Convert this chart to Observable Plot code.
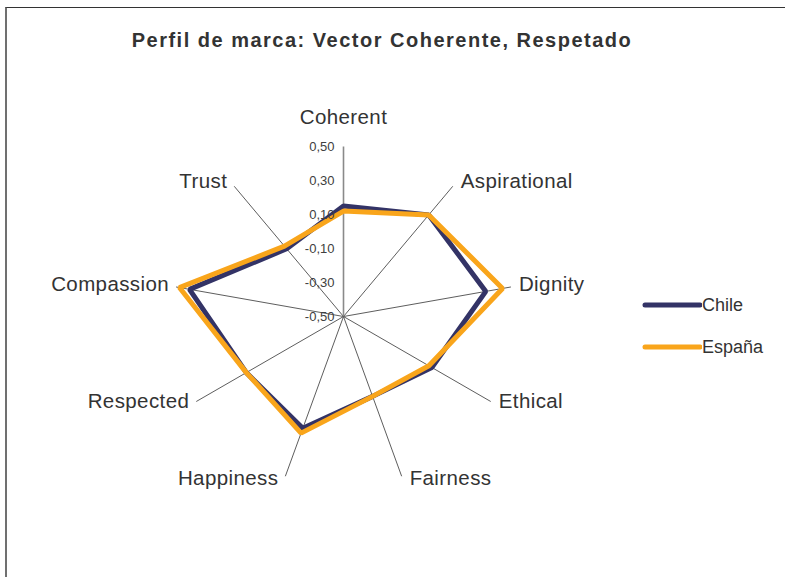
<!DOCTYPE html>
<html><head><meta charset="utf-8">
<script src="https://cdn.jsdelivr.net/npm/d3@7"></script>
<script src="https://cdn.jsdelivr.net/npm/@observablehq/plot@0.6"></script>
<style>
body{margin:0;background:#fff;font-family:"Liberation Sans",Arial,sans-serif;}
#wrap{position:relative;width:785px;height:577px;overflow:hidden;background:#fff}
#frame{position:absolute;left:5px;top:7px;width:790px;height:580px;border-top:1.5px solid #333;border-left:2px solid #707070;}
#title{position:absolute;left:0;top:28px;width:764px;text-align:center;font-weight:bold;font-size:20px;letter-spacing:1.5px;color:#333;line-height:24px;white-space:nowrap}
#chart{position:absolute;left:0;top:0}
#chart g[font-size="20.5"] text{letter-spacing:0.4px}
.leg{position:absolute;left:640px;height:24px;display:flex;align-items:center;font-size:18px;color:#333}
.leg svg{display:block}
</style></head><body>
<div id="wrap"><div id="frame"></div><div id="chart"></div><div id="title">Perfil de marca: Vector Coherente, Respetado</div><div id="legend"></div></div>
<script>
const categories = ["Coherent","Aspirational","Dignity","Ethical","Fairness","Happiness","Respected","Compassion","Trust"];
const chile  = [0.15, 0.28, 0.35, 0.10, 0.00, 0.20, 0.16, 0.42, 0.02];
const espana = [0.12, 0.28, 0.45, 0.08, 0.00, 0.23, 0.16, 0.48, 0.04];
const seriesNames = ["Chile", "España"];
const seriesColors = ["#333366", "#F9A51B"];
const tickValues = [-0.5, -0.3, -0.1, 0.1, 0.3, 0.5];
const tickLabels = ["-0,50", "-0,30", "-0,10", "0,10", "0,30", "0,50"];
const rMin = -0.5, rMax = 0.5;

const W = 785, H = 577, cx = 343, cy = 316, R = 170;
const n = categories.length;
const ang = i => i * 2 * Math.PI / n;
const rad = v => (v - rMin) / (rMax - rMin);

const spokes = categories.map((c, i) => ({i, cat: c, x: Math.sin(ang(i)), y: Math.cos(ang(i))}));
const points = [];
[chile, espana].forEach((vals, s) => vals.forEach((v, i) => points.push({
  series: seriesNames[s], cat: categories[i],
  x: rad(v) * Math.sin(ang(i)), y: rad(v) * Math.cos(ang(i))
})));
const ticks = tickValues.map((v, k) => ({label: tickLabels[k], y: rad(v)}));

const topSpoke = spokes.filter(d => d.i === 0);
const rightSpokes = spokes.filter(d => d.i > 0 && d.x > 0);
const leftSpokes = spokes.filter(d => d.x < 0);

const chart = Plot.plot({
  width: W, height: H, margin: 0,
  x: {domain: [-cx / R, (W - cx) / R], range: [0, W], axis: null},
  y: {domain: [-(H - cy) / R, cy / R], range: [H, 0], axis: null},
  color: {domain: seriesNames, range: seriesColors},
  style: {fontFamily: "Liberation Sans, Arial, sans-serif", background: "transparent", overflow: "visible"},
  marks: [
    Plot.link(spokes.filter(d => d.i > 0), {x1: 0, y1: 0, x2: "x", y2: "y", stroke: "#333", strokeWidth: 0.8}),
    Plot.link(topSpoke, {x1: 0, y1: 0, x2: "x", y2: "y", stroke: "#8a8a8a", strokeWidth: 1.6}),
    Plot.line(points, {x: "x", y: "y", z: "series", stroke: "series", strokeWidth: 5, curve: "linear-closed", strokeLinejoin: "miter", strokeLinecap: "butt"}),
    Plot.text(ticks, {x: 0, y: "y", text: "label", textAnchor: "end", dx: -9, fontSize: 13, fill: "#404040"}),
    Plot.text(topSpoke, {x: "x", y: "y", text: "cat", textAnchor: "middle", dy: -29, fontSize: 20.5, fill: "#333"}),
    ...rightSpokes.map(d => Plot.text([d], {x: "x", y: "y", text: "cat", textAnchor: "start", dx: 8, dy: -4 * d.y - 2, fontSize: 20.5, fill: "#333"})),
    ...leftSpokes.map(d => Plot.text([d], {x: "x", y: "y", text: "cat", textAnchor: "end", dx: -7, dy: -4 * d.y - 2, fontSize: 20.5, fill: "#333"}))
  ]
});
document.getElementById("chart").appendChild(chart);

const legend = document.getElementById("legend");
const legY = [293, 335];
seriesNames.forEach((name, k) => {
  const d = document.createElement("div");
  d.className = "leg";
  d.style.top = legY[k] + "px";
  d.innerHTML = `<svg width="62" height="24"><line x1="5" y1="12" x2="60" y2="12" stroke="${seriesColors[k]}" stroke-width="5" stroke-linecap="round"/></svg><span>${name}</span>`;
  legend.appendChild(d);
});
</script>
</body></html>
